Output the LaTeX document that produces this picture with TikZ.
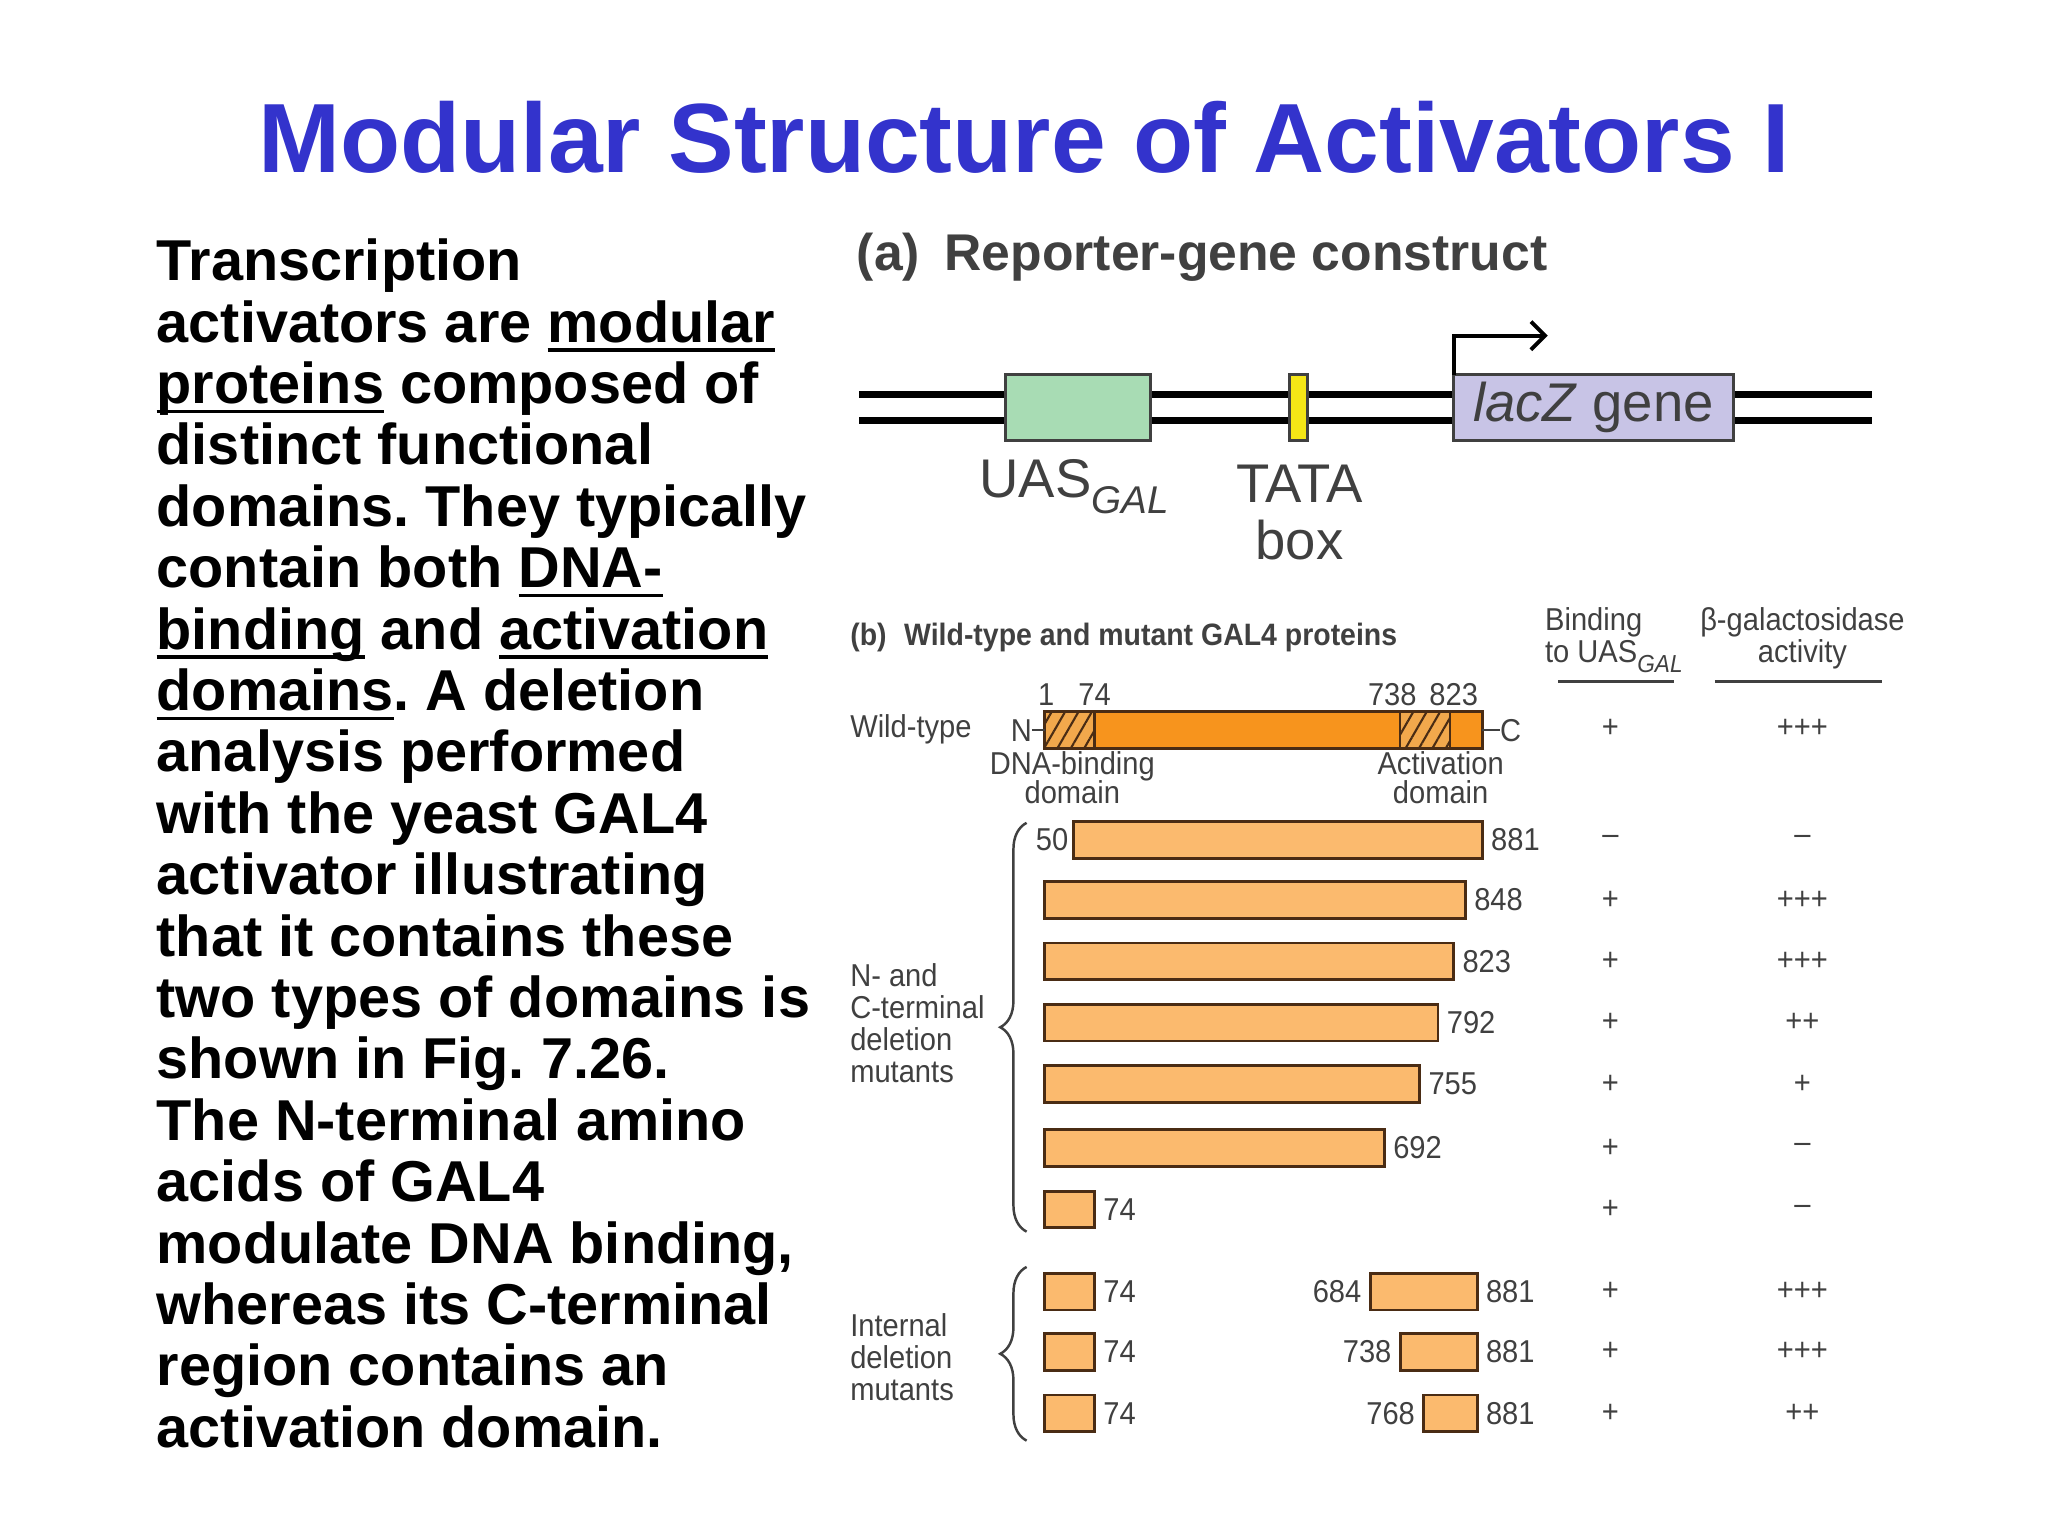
\documentclass[tikz,border=0pt]{standalone}
\usepackage{fontspec}
\setmainfont{Liberation Sans}
\newfontfamily\figfont[FakeStretch=0.92]{Liberation Sans}
\usetikzlibrary{positioning,fit,arrows.meta,patterns.meta,decorations.pathreplacing}
\definecolor{titleblue}{RGB}{51,51,204}
\definecolor{figgray}{RGB}{64,64,64}
\definecolor{wtorange}{RGB}{247,148,29}
\definecolor{hatchorange}{RGB}{242,168,76}
\definecolor{mutorange}{RGB}{251,186,110}
\definecolor{barline}{RGB}{74,44,20}
\definecolor{uasgreen}{RGB}{168,220,180}
\definecolor{tatayellow}{RGB}{245,230,22}
\definecolor{laczblue}{RGB}{200,196,230}
\newcommand\ulw[1]{\setbox0\hbox{#1}\rlap{\rule[-2.7pt]{\wd0}{1pt}}\box0\relax}
\frenchspacing
\begin{document}
\begin{tikzpicture}[x=0.013061cm,y=-0.013061cm,>={Straight Barb[length=4pt,width=8pt]},
    every node/.style={inner sep=0pt,outer sep=0pt},
    slidetitle/.style={font=\fontsize{28}{33}\selectfont\bfseries,text=titleblue,anchor=base},
    bodyline/.style={font=\fontsize{16.4}{19}\selectfont\bfseries,anchor=base west},
    parthead/.style={font=\fontsize{14.7}{17}\selectfont\bfseries,text=figgray,anchor=base west},
    alabel/.style={font=\fontsize{15.5}{18}\selectfont,text=figgray,anchor=base},
    figtxt/.style={font=\figfont\fontsize{9}{11}\selectfont,text=figgray},
    dnastrand/.style={line width=1.9pt,black},
    dnabox/.style={draw=figgray,line width=0.8pt},
    wtbar/.style={draw=barline,fill=wtorange,line width=0.8pt},
    hatchbox/.style={draw=barline,line width=0.6pt,preaction={fill=hatchorange},
        pattern={Lines[angle=60,distance=3.3pt,line width=0.6pt]},pattern color=barline},
    mutbar/.style={draw=barline,fill=mutorange,line width=0.8pt},
    colrule/.style={draw=figgray,line width=0.9pt},
    grpbrace/.style={draw=figgray,line width=0.7pt,decorate,decoration={brace,amplitude=7.5pt}}]
\useasboundingbox (0,0) rectangle (1568,1176);

\node[slidetitle] (ttl) at (784,132) {Modular Structure of Activators I};

% left column
\foreach \ln [count=\i from 0] in {
    {Transcription},
    {activators are \ulw{modular}},
    {\ulw{proteins} composed of},
    {distinct functional},
    {domains. They typically},
    {contain both \ulw{DNA-}},
    {\ulw{binding} and \ulw{activation}},
    {\ulw{domains}. A deletion},
    {analysis performed},
    {with the yeast GAL4},
    {activator illustrating},
    {that it contains these},
    {two types of domains is},
    {shown in Fig. 7.26.},
    {The N-terminal amino},
    {acids of GAL4},
    {modulate DNA binding,},
    {whereas its C-terminal},
    {region contains an},
    {activation domain.}}
  \node[bodyline] (body\i) at (120,215+47*\i) {\ln};

% (a) reporter construct
\node[parthead] (ahead) at (656,207) {(a)\hspace{7pt}Reporter-gene construct};
\foreach \ys in {302,322}
  \draw[dnastrand] (658,\ys) -- (1433,\ys);
\node[dnabox,fill=uasgreen,fit={(770,287) (881,337)}] (uas) {};
\node[dnabox,fill=tatayellow,fit={(987,287) (1001,337)}] (tata) {};
\node[dnabox,fill=laczblue,fit={(1113,287) (1327,337)}] (lacz) {};
\node[alabel,anchor=center] (lacztxt) at (lacz) {\textit{lacZ} gene};
\coordinate (tss) at (1185,257);
\draw[->,line width=1.1pt] (lacz.north west) |- (tss);
\node[alabel,anchor=base west] (uaslbl) at (750,381) {UAS\raisebox{-4.5pt}{\fontsize{11}{13}\selectfont\itshape GAL}};
\node[alabel] (tatalbl) at (995,385) {TATA};
\node[alabel] (boxlbl) at (995,428) {box};

% (b) header and columns
\node[figtxt,font=\figfont\fontsize{8.8}{10}\selectfont\bfseries,anchor=base west] (bhead) at (651,494) {(b)\hspace{5pt}Wild-type and mutant GAL4 proteins};
\node[figtxt,anchor=base west] (bindhd) at (1183,483) {Binding};
\node[figtxt,anchor=base west] (bindhd2) at (1183,507) {to UAS\raisebox{-3pt}{\fontsize{7}{8}\selectfont\itshape GAL}};
\node[figtxt,anchor=base] (galhd) at (1380,483) {β-galactosidase};
\node[figtxt,anchor=base] (galhd2) at (1380,507) {activity};
\draw[colrule] (1193,522) -- (1282,522);
\draw[colrule] (1313,522) -- (1441,522);

% wild-type
\node[figtxt,anchor=base west] (wtlbl) at (651,565) {Wild-type};
\node[wtbar,fit={(800,545) (1135,573)}] (wt) {};
\node[hatchbox,fit={(800,545) (838,573)}] (dbd) {};
\node[hatchbox,fit={(1072,545) (1110,573)}] (actd) {};
\node[figtxt,left=3.7pt of wt] (nterm) {N};
\node[figtxt,right=5pt of wt] (cterm) {C};
\draw[figgray,line width=0.6pt] (nterm) -- (wt);
\draw[figgray,line width=0.6pt] (wt) -- (cterm);
\node[figtxt,anchor=base] (pos1) at (801,540) {1};
\node[figtxt,anchor=base] (pos74) at (838,540) {74};
\node[figtxt,anchor=base] (pos738) at (1066,540) {738};
\node[figtxt,anchor=base] (pos823) at (1113,540) {823};
\node[figtxt,anchor=base] (dbdlbl) at (821,593) {DNA-binding};
\node[figtxt,anchor=base] (dbdlbl2) at (821,615) {domain};
\node[figtxt,anchor=base] (actlbl) at (1103,593) {Activation};
\node[figtxt,anchor=base] (actlbl2) at (1103,615) {domain};
\node[figtxt] (wtbind) at (1233,558) {+};
\node[figtxt] (wtact) at (1380,558) {+++};

% N- and C-terminal deletion mutants
\foreach \ys/\xs/\xe/\lbl/\bnd/\act [count=\i] in {
    643/822/1135/881/–/–,
    689/800/1122/848/+/+++,
    736/800/1113/823/+/+++,
    783/800/1101/792/+/++,
    830/800/1087/755/+/+,
    879/800/1060/692/+/–,
    926/800/838/74/+/–}
{
  \node[mutbar,fit={(\xs,\ys-14) (\xe,\ys+14)}] (mut\i) {};
  \node[figtxt,right=2.5pt of mut\i] (mutend\i) {\lbl};
  \node[figtxt] (mutbind\i) at (1233,\ys) {\bnd};
  \node[figtxt] (mutact\i) at (1380,\ys) {\act};
}
\node[figtxt,left=1.5pt of mut1] (mutstart1) {50};
\draw[grpbrace] (786,943) -- (786,630);
\foreach \t [count=\i from 0] in {N- and,C-terminal,deletion,mutants}
  \node[figtxt,anchor=base west] (ncgrp\i) at (651,755+24.7*\i) {\t};

% internal deletion mutants
\foreach \ys/\xs/\lbl/\act [count=\i] in {989/1049/684/+++,1035/1072/738/+++,1082/1090/768/++}
{
  \node[mutbar,fit={(800,\ys-14) (838,\ys+14)}] (intn\i) {};
  \node[figtxt,right=2.5pt of intn\i] (intnlbl\i) {74};
  \node[mutbar,fit={(\xs,\ys-14) (1131,\ys+14)}] (intc\i) {};
  \node[figtxt,left=2.5pt of intc\i] (intclbl\i) {\lbl};
  \node[figtxt,right=2.5pt of intc\i] (intcend\i) {881};
  \node[figtxt] (intbind\i) at (1233,\ys) {+};
  \node[figtxt] (intact\i) at (1380,\ys) {\act};
}
\draw[grpbrace] (786,1103) -- (786,970);
\foreach \t [count=\i from 0] in {Internal,deletion,mutants}
  \node[figtxt,anchor=base west] (intgrp\i) at (651,1023+24.7*\i) {\t};
\end{tikzpicture}
\end{document}
